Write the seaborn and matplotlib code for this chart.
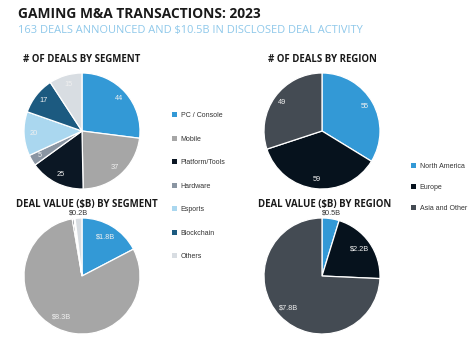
import numpy as np
import matplotlib
matplotlib.use("Agg")
import matplotlib.pyplot as plt
from matplotlib.patches import Patch
import seaborn as sns

# ---- data ----
segments = ["PC / Console", "Mobile", "Platform/Tools", "Hardware", "Esports", "Blockchain", "Others"]
segment_deals = [44, 37, 25, 5, 20, 17, 15]
segment_value = [1.8, 8.3, 0.05, 0.01, 0.01, 0.01, 0.2]
segment_value_labels = ["$1.8B", "$8.3B", "", "", "", "", "$0.2B"]

regions = ["North America", "Europe", "Asia and Other"]
region_deals = [55, 59, 49]
region_value = [0.5, 2.2, 7.8]
region_value_labels = ["$0.5B", "$2.2B", "$7.8B"]

segment_colors = ["#3399d6", "#a6a6a6", "#0b1724", "#8a95a2", "#aad7ef", "#1c5a80", "#d8dde2"]
region_colors = ["#3399d6", "#06121d", "#444b53"]

sns.set_theme(style="white")
plt.rcParams["font.family"] = ["Liberation Sans", "DejaVu Sans"]

W, H = 471, 344
fig = plt.figure(figsize=(W / 100, H / 100), dpi=100)
fig.patch.set_facecolor("white")

HEAD = ["Open Sans", "DejaVu Sans"]


def fx(x):
    return x / W


def fy(y):
    return 1 - y / H


def pie_axes(cx, cy, r):
    ax = fig.add_axes([fx(cx - r), fy(cy + r), 2 * r / W, 2 * r / H])
    return ax


def draw_pie(ax, values, colors, labels, inner, outer_idx=()):
    wedges, _ = ax.pie(values, colors=colors, startangle=90, counterclock=False,
                       wedgeprops=dict(edgecolor="white", linewidth=0.9))
    ax.set_xlim(-1, 1)
    ax.set_ylim(-1, 1)
    ax.set_aspect("equal")
    ax.axis("off")
    for w, lab, i in zip(wedges, labels, range(len(labels))):
        if not lab:
            continue
        mid = np.deg2rad((w.theta1 + w.theta2) / 2)
        if i in outer_idx:
            d = 1.09
            col = "#333333"
        else:
            d = inner
            col = "#f0f0f0"
        ax.text(d * np.cos(mid), d * np.sin(mid), lab, ha="center", va="center",
                fontsize=5.3, color=col, clip_on=False)
    return wedges


# titles
fig.text(fx(18), fy(14), "GAMING M&A TRANSACTIONS: 2023", fontsize=9.9,
         fontweight="bold", family=HEAD, color="#1a1a1a", va="center", ha="left")
fig.text(fx(18), fy(30), "163 DEALS ANNOUNCED AND $10.5B IN DISCLOSED DEAL ACTIVITY",
         fontsize=7.9, family=HEAD, color="#8ec8ea", va="center", ha="left")

# pies
R = 58
ax1 = pie_axes(82, 131, R)
draw_pie(ax1, segment_deals, segment_colors, [str(v) for v in segment_deals], 0.84)
ax2 = pie_axes(322, 131, R)
draw_pie(ax2, region_deals, region_colors, [str(v) for v in region_deals], 0.85)
ax3 = pie_axes(82, 276, R)
draw_pie(ax3, segment_value, segment_colors, segment_value_labels, 0.79, outer_idx=(6,))
ax4 = pie_axes(322, 276, R)
draw_pie(ax4, region_value, region_colors, region_value_labels, 0.8, outer_idx=(0,))

# panel headings
for x, y, t in [(82, 60, "# OF DEALS BY SEGMENT"), (322, 60, "# OF DEALS BY REGION"),
                (87, 204, "DEAL VALUE ($B) BY SEGMENT"), (325, 204, "DEAL VALUE ($B) BY REGION")]:
    fig.text(fx(x), fy(y), t, fontsize=6.9, fontweight="bold", family=HEAD,
             color="#1a1a1a", ha="center", va="center")

# legends
seg_handles = [Patch(facecolor=c, edgecolor="none", label=l) for c, l in zip(segment_colors, segments)]
fig.legend(handles=seg_handles, loc="upper left", bbox_to_anchor=(fx(172), fy(112)),
           frameon=False, fontsize=5, handlelength=0.75, handleheight=0.75,
           handletextpad=0.5, labelspacing=2.38, borderaxespad=0, borderpad=0,
           labelcolor="#333333")
reg_handles = [Patch(facecolor=c, edgecolor="none", label=l) for c, l in zip(region_colors, regions)]
fig.legend(handles=reg_handles, loc="upper left", bbox_to_anchor=(fx(411), fy(163)),
           frameon=False, fontsize=5, handlelength=0.75, handleheight=0.75,
           handletextpad=0.5, labelspacing=2.0, borderaxespad=0, borderpad=0,
           labelcolor="#333333")

fig.savefig("out.png", dpi=100, facecolor="white")
